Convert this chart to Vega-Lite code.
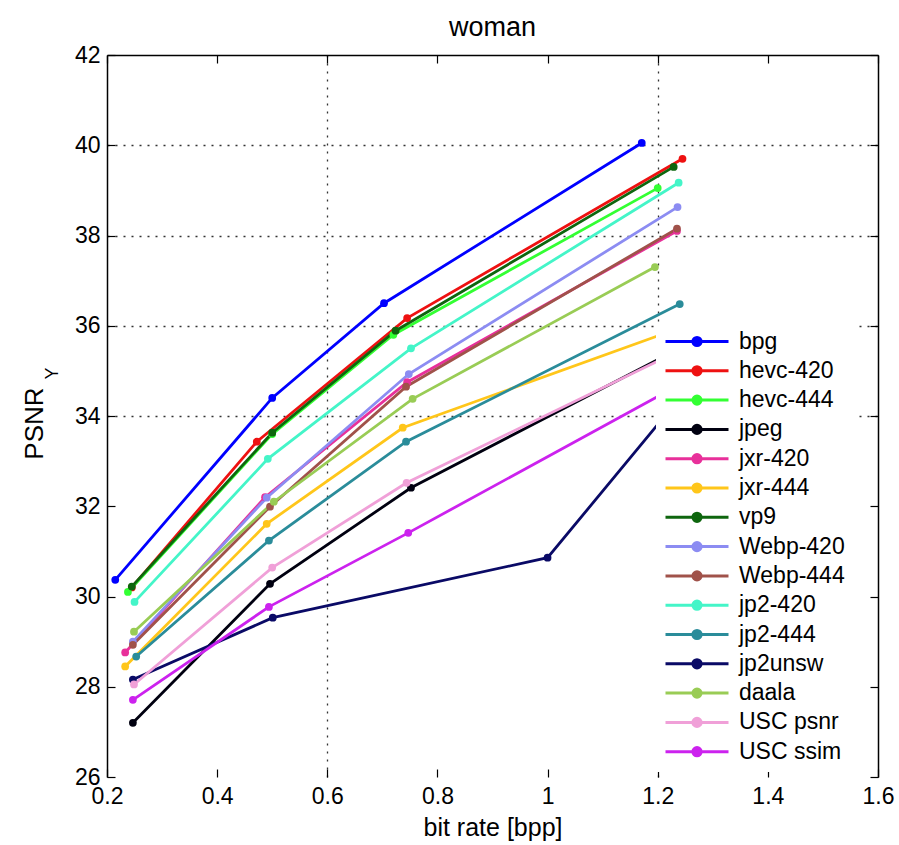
{
  "$schema": "https://vega.github.io/schema/vega-lite/v6.json",
  "width": 771,
  "height": 722,
  "autosize": {"type": "none"},
  "padding": {"left": 107, "top": 55, "right": 21, "bottom": 68},
  "background": "white",
  "config": {"view": {"stroke": null}, "font": "Liberation Sans"},
  "data": {"values": [
    {"codec": "bpg", "bpp": 0.215, "psnr": 30.37},
    {"codec": "bpg", "bpp": 0.5, "psnr": 34.4},
    {"codec": "bpg", "bpp": 0.703, "psnr": 36.5},
    {"codec": "bpg", "bpp": 1.171, "psnr": 40.05},
    {"codec": "hevc-420", "bpp": 0.245, "psnr": 30.2},
    {"codec": "hevc-420", "bpp": 0.472, "psnr": 33.43},
    {"codec": "hevc-420", "bpp": 0.745, "psnr": 36.17},
    {"codec": "hevc-420", "bpp": 1.245, "psnr": 39.7},
    {"codec": "hevc-444", "bpp": 0.238, "psnr": 30.1},
    {"codec": "hevc-444", "bpp": 0.5, "psnr": 33.6},
    {"codec": "hevc-444", "bpp": 0.72, "psnr": 35.8},
    {"codec": "hevc-444", "bpp": 1.2, "psnr": 39.05},
    {"codec": "jpeg", "bpp": 0.247, "psnr": 27.2},
    {"codec": "jpeg", "bpp": 0.496, "psnr": 30.28},
    {"codec": "jpeg", "bpp": 0.752, "psnr": 32.41},
    {"codec": "jpeg", "bpp": 1.24, "psnr": 35.5},
    {"codec": "jxr-420", "bpp": 0.233, "psnr": 28.76},
    {"codec": "jxr-420", "bpp": 0.487, "psnr": 32.2},
    {"codec": "jxr-420", "bpp": 0.745, "psnr": 34.75},
    {"codec": "jxr-420", "bpp": 1.235, "psnr": 38.1},
    {"codec": "jxr-444", "bpp": 0.233, "psnr": 28.45},
    {"codec": "jxr-444", "bpp": 0.49, "psnr": 31.61},
    {"codec": "jxr-444", "bpp": 0.737, "psnr": 33.74},
    {"codec": "jxr-444", "bpp": 1.24, "psnr": 35.95},
    {"codec": "vp9", "bpp": 0.245, "psnr": 30.22},
    {"codec": "vp9", "bpp": 0.5, "psnr": 33.63},
    {"codec": "vp9", "bpp": 0.724, "psnr": 35.89},
    {"codec": "vp9", "bpp": 1.229, "psnr": 39.52},
    {"codec": "Webp-420", "bpp": 0.247, "psnr": 29.0},
    {"codec": "Webp-420", "bpp": 0.49, "psnr": 32.19},
    {"codec": "Webp-420", "bpp": 0.748, "psnr": 34.93},
    {"codec": "Webp-420", "bpp": 1.236, "psnr": 38.63},
    {"codec": "Webp-444", "bpp": 0.247, "psnr": 28.93},
    {"codec": "Webp-444", "bpp": 0.496, "psnr": 31.99},
    {"codec": "Webp-444", "bpp": 0.743, "psnr": 34.65},
    {"codec": "Webp-444", "bpp": 1.235, "psnr": 38.15},
    {"codec": "jp2-420", "bpp": 0.25, "psnr": 29.88},
    {"codec": "jp2-420", "bpp": 0.492, "psnr": 33.05},
    {"codec": "jp2-420", "bpp": 0.752, "psnr": 35.5},
    {"codec": "jp2-420", "bpp": 1.238, "psnr": 39.17},
    {"codec": "jp2-444", "bpp": 0.253, "psnr": 28.67},
    {"codec": "jp2-444", "bpp": 0.494, "psnr": 31.24},
    {"codec": "jp2-444", "bpp": 0.743, "psnr": 33.43},
    {"codec": "jp2-444", "bpp": 1.24, "psnr": 36.48},
    {"codec": "jp2unsw", "bpp": 0.247, "psnr": 28.16},
    {"codec": "jp2unsw", "bpp": 0.501, "psnr": 29.53},
    {"codec": "jp2unsw", "bpp": 1.0, "psnr": 30.86},
    {"codec": "jp2unsw", "bpp": 1.24, "psnr": 34.4},
    {"codec": "daala", "bpp": 0.249, "psnr": 29.22},
    {"codec": "daala", "bpp": 0.503, "psnr": 32.1},
    {"codec": "daala", "bpp": 0.755, "psnr": 34.38},
    {"codec": "daala", "bpp": 1.195, "psnr": 37.3},
    {"codec": "USC  psnr", "bpp": 0.249, "psnr": 28.05},
    {"codec": "USC  psnr", "bpp": 0.5, "psnr": 30.64},
    {"codec": "USC  psnr", "bpp": 0.744, "psnr": 32.52},
    {"codec": "USC  psnr", "bpp": 1.24, "psnr": 35.45},
    {"codec": "USC  ssim", "bpp": 0.247, "psnr": 27.71},
    {"codec": "USC  ssim", "bpp": 0.494, "psnr": 29.77},
    {"codec": "USC  ssim", "bpp": 0.747, "psnr": 31.41},
    {"codec": "USC  ssim", "bpp": 1.24, "psnr": 34.7}
  ]},
  "layer": [
    {
      "mark": {"type": "line", "strokeWidth": 2.8},
      "encoding": {
        "x": {"field": "bpp", "type": "quantitative",
          "scale": {"domain": [0.2, 1.6], "nice": false, "zero": false},
          "axis": {"orient": "bottom", "values": [0.2, 0.4, 0.6, 0.8, 1, 1.2, 1.4, 1.6], "format": "~g",
            "domain": false, "ticks": true, "tickSize": -8, "tickColor": "black", "tickWidth": 1.2,
            "labelFont": "Liberation Sans", "labelFontSize": 23, "labelColor": "black", "labelPadding": 34, "labelBaseline": "alphabetic", "labelFlush": false,
            "grid": true, "gridColor": "#333333", "gridDash": [2, 6], "gridWidth": 1.3,
            "gridOpacity": {"condition": {"test": "datum.value == 0.6 || datum.value == 1.2", "value": 1}, "value": 0},
            "title": "bit rate [bpp]", "titleFont": "Liberation Sans", "titleFontSize": 25, "titleFontWeight": "normal", "titleColor": "black",
            "titleBaseline": "alphabetic", "titleY": 58}},
        "y": {"field": "psnr", "type": "quantitative",
          "scale": {"domain": [26, 42], "nice": false, "zero": false},
          "axis": {"orient": "left", "values": [26, 28, 30, 32, 34, 36, 38, 40, 42],
            "domain": true, "domainColor": "black", "domainWidth": 1.5,
            "ticks": true, "tickSize": -8, "tickColor": "black", "tickWidth": 1.2,
            "labelFont": "Liberation Sans", "labelFontSize": 23, "labelColor": "black", "labelPadding": 15,
            "grid": true, "gridColor": "#333333", "gridDash": [2, 6], "gridWidth": 1.3,
            "gridOpacity": {"condition": {"test": "datum.value >= 34 && datum.value <= 40", "value": 1}, "value": 0},
            "title": "PSNR", "titleFont": "Liberation Sans", "titleFontSize": 26, "titleFontWeight": "normal", "titleColor": "black",
            "titleAngle": 270, "titleAlign": "center", "titleBaseline": "alphabetic", "titleX": -65, "titleY": 368}},
        "color": {"field": "codec", "type": "nominal",
          "scale": {
            "domain": ["bpg", "hevc-420", "hevc-444", "jpeg", "jxr-420", "jxr-444", "vp9", "Webp-420", "Webp-444", "jp2-420", "jp2-444", "jp2unsw", "daala", "USC  psnr", "USC  ssim"],
            "range": ["#0000ff", "#ee1111", "#33ff33", "#000010", "#e8309a", "#ffc61a", "#0e660e", "#8c8cf2", "#a0524a", "#44f5c8", "#2a8c9a", "#0a0a66", "#99cc55", "#f0a0d8", "#cc22ee"]},
          "legend": {
            "orient": "none", "legendX": 549, "legendY": 267, "title": null,
            "fillColor": "white", "padding": 8, "zindex": 1,
            "symbolType": "M-1,0L1,0M0.13,0A0.13,0.13,0,1,1,-0.13,0A0.13,0.13,0,1,1,0.13,0Z",
            "symbolSize": 3969, "symbolStrokeWidth": 3, "symbolOpacity": 1,
            "clipHeight": 23, "rowPadding": 5.3,
            "labelFont": "Liberation Sans", "labelFontSize": 23, "labelColor": "black", "labelOffset": 9, "labelLimit": 300,
            "encode": {"symbols": {"update": {"fill": {"scale": "color", "field": "value"}, "stroke": {"scale": "color", "field": "value"}}}}
          }}
      }
    },
    {
      "mark": {"type": "point", "filled": true, "size": 60, "opacity": 1},
      "encoding": {
        "x": {"field": "bpp", "type": "quantitative",
          "axis": {"orient": "top", "values": [0.2, 0.4, 0.6, 0.8, 1, 1.2, 1.4, 1.6], "labels": false, "grid": false,
            "domain": true, "domainColor": "black", "domainWidth": 1.5, "ticks": true, "tickSize": -8, "tickColor": "black", "tickWidth": 1.2,
            "title": "woman", "titleFont": "Liberation Sans", "titleFontSize": 27, "titleFontWeight": "normal", "titleColor": "black",
            "titleAngle": 0, "titleAlign": "center", "titleBaseline": "alphabetic", "titleX": 385, "titleY": -20}},
        "y": {"field": "psnr", "type": "quantitative",
          "axis": {"orient": "right", "values": [26, 28, 30, 32, 34, 36, 38, 40, 42], "labels": false, "grid": false,
            "domain": true, "domainColor": "black", "domainWidth": 1.5, "ticks": true, "tickSize": -8, "tickColor": "black", "tickWidth": 1.2,
            "title": "Y", "titleFont": "Liberation Sans", "titleFontSize": 18, "titleFontWeight": "normal", "titleColor": "black",
            "titleAngle": 270, "titleAlign": "center", "titleBaseline": "alphabetic", "titleX": -821, "titleY": 318}},
        "color": {"field": "codec", "type": "nominal"}
      }
    }
  ],
  "resolve": {"axis": {"x": "independent", "y": "independent"}}
}
